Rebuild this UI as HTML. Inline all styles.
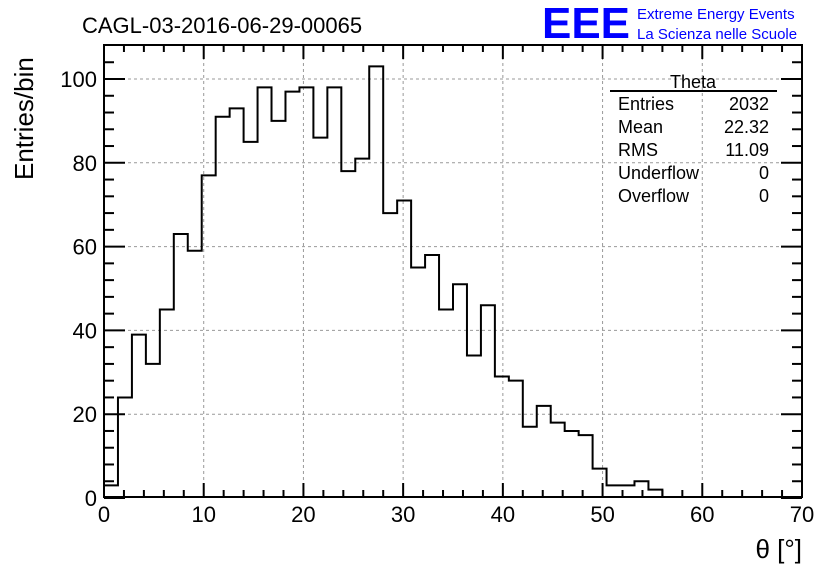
<!DOCTYPE html>
<html><head><meta charset="utf-8"><style>
body{margin:0;background:#fff;}
svg{display:block;font-family:"Liberation Sans",sans-serif;}
</style></head><body>
<svg id="c" width="836" height="572">
<text x="82" y="33" font-size="22">CAGL-03-2016-06-29-00065</text>
<text x="542" y="38" font-size="44" fill="#0000ff" font-weight="bold" textLength="88" lengthAdjust="spacingAndGlyphs">EEE</text>
<text x="637" y="19" font-size="15" fill="#0000ff">Extreme Energy Events</text>
<text x="637" y="39" font-size="15" fill="#0000ff">La Scienza nelle Scuole</text>
<text transform="translate(33,180) rotate(-90)" font-size="26">Entries/bin</text>
<text x="802" y="558" font-size="26" text-anchor="end">θ [°]</text>
<g id="grid"></g><g id="ticks"></g>
<path id="hist" fill="none" stroke="#000" stroke-width="2"/>
<rect x="104" y="45" width="698" height="452" fill="none" stroke="#000" stroke-width="2"/>
<g font-size="18">
<text x="693" y="88" text-anchor="middle">Theta</text>
<line x1="610" y1="91" x2="777" y2="91" stroke="#000" stroke-width="2"/>
<text x="618" y="110">Entries</text><text x="769" y="110" text-anchor="end">2032</text>
<text x="618" y="133">Mean</text><text x="769" y="133" text-anchor="end">22.32</text>
<text x="618" y="156">RMS</text><text x="769" y="156" text-anchor="end">11.09</text>
<text x="618" y="179">Underflow</text><text x="769" y="179" text-anchor="end">0</text>
<text x="618" y="202">Overflow</text><text x="769" y="202" text-anchor="end">0</text>
</g>
</svg>
<script>
const binWidth=1.4;
const counts=[3,24,39,32,45,63,59,77,91,93,85,98,90,97,98,86,98,78,81,103,68,71,55,58,45,51,34,46,29,28,17,22,18,16,15,7,3,3,4,2,0,0,0,0,0,0,0,0,0,0];
const xTicks=[0,10,20,30,40,50,60,70];
const yTicks=[0,20,40,60,80,100];
const NS="http://www.w3.org/2000/svg";
const X0=104,X1=802,Y0=497,Y1=45;
const xs=v=>X0+(v/70)*(X1-X0);
const ys=v=>498-v*4.19;
function mk(tag,attrs,parent){const e=document.createElementNS(NS,tag);for(const k in attrs)e.setAttribute(k,attrs[k]);parent.appendChild(e);return e;}
const grid=document.getElementById('grid'),tk=document.getElementById('ticks');
xTicks.forEach(t=>{const x=xs(t);
 if(t>0&&t<70){const g=mk('line',{x1:x,x2:x,y1:Y1,y2:Y0,stroke:'#999','stroke-dasharray':'3,3'},grid);
 
 }
 const l=mk('text',{x:x,y:522,'font-size':22,'text-anchor':'middle'},tk);l.textContent=t;
 
 
});
for(let v=0;v<=70;v+=2){const x=xs(v),len=v%10===0?14:7;
 mk('line',{x1:x,x2:x,y1:Y0,y2:Y0-len,stroke:'#000','stroke-width':2},tk);
 mk('line',{x1:x,x2:x,y1:Y1,y2:Y1+len,stroke:'#000','stroke-width':2},tk);}
yTicks.forEach(t=>{const y=ys(t);
 if(t>0){const g=mk('line',{x1:X0,x2:X1,y1:y,y2:y,stroke:'#999','stroke-dasharray':'3,3'},grid);
 
 }
 const l=mk('text',{x:97,y:y+8,'font-size':22,'text-anchor':'end'},tk);l.textContent=t;
 
 
});
for(let v=0;v<=104;v+=4){const y=ys(v);if(y<Y1)continue;const len=v%20===0?21:10;
 mk('line',{x1:X0,x2:X0+len,y1:y,y2:y,stroke:'#000','stroke-width':2},tk);
 mk('line',{x1:X1,x2:X1-len,y1:y,y2:y,stroke:'#000','stroke-width':2},tk);}
let last=counts.length-1;while(last>0&&counts[last]===0)last--;
let d='M'+xs(0)+','+ys(0);
for(let i=0;i<=last;i++){const c=counts[i];d+=' L'+xs(i*binWidth)+','+ys(c)+' L'+xs((i+1)*binWidth)+','+ys(c);}
d+=' L'+xs((last+1)*binWidth)+','+ys(0);
document.getElementById('hist').setAttribute('d',d);
</script>
</body></html>
